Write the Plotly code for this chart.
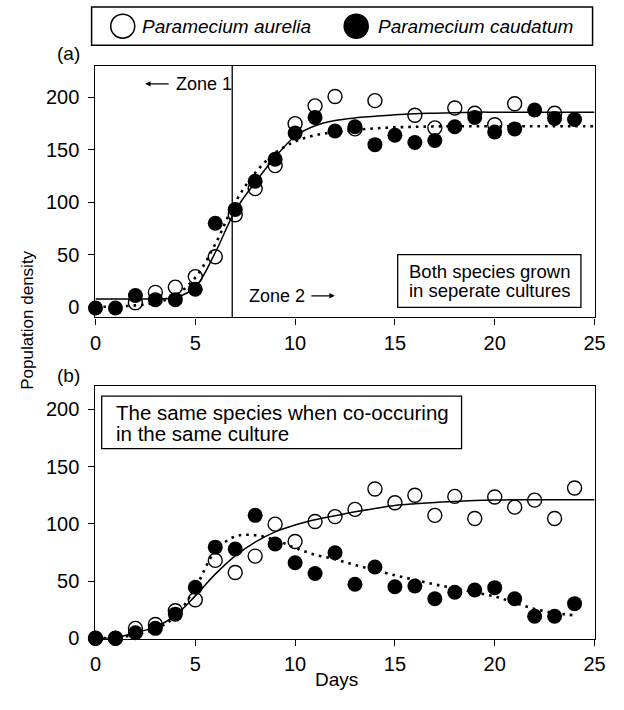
import plotly.graph_objects as go

# ---------------- data ----------------
days = list(range(0, 26))

# Panel (a): grown separately
a_aur_days = [2, 3, 4, 5, 6, 7, 8, 9, 10, 11, 12, 13, 14, 16, 17, 18, 19, 20, 21, 23]
a_aur_vals = [4, 14, 19, 29, 48, 88, 113, 135, 175, 192, 201, 170, 197, 183, 171, 190, 185, 174, 194, 185]
a_cau_days = [0, 1, 2, 3, 4, 5, 6, 7, 8, 9, 10, 11, 12, 13, 14, 15, 16, 17, 18, 19, 20, 21, 22, 23, 24]
a_cau_vals = [-1, -1, 11, 7, 7, 17, 80, 93, 120, 141, 166, 181, 168, 172, 155, 164, 157, 159, 172, 181, 167, 170, 188, 180, 179]
a_aur_fit = [7.6, 7.6, 7.6, 7.8, 9, 19, 52, 92, 119, 143, 163, 173, 178, 180.5, 182, 183.5, 184.5, 185, 185.5,
             186, 186, 186, 186, 186, 186, 186]
a_cau_fit = [0, 0.5, 1.5, 4, 11, 28, 60, 100, 128, 147, 158, 164, 167, 169, 170.5, 171.5, 172, 172.4, 172.5,
             172.5, 172.5, 172.5, 172.5, 172.5, 172.5, 172.5]

# Panel (b): co-occurring
b_aur_days = [0, 1, 2, 3, 4, 5, 6, 7, 8, 9, 10, 11, 12, 13, 14, 15, 16, 17, 18, 19, 20, 21, 22, 23, 24]
b_aur_vals = [0, 0, 8.6, 12, 24, 33.6, 68, 57.4, 71.8, 99.7, 84.5, 102, 106.3, 112.6, 130.4, 118.4, 125,
              107.4, 124, 104.6, 123.5, 114.6, 120.7, 104.6, 131.3]
b_cau_days = b_aur_days
b_cau_vals = [0, 0, 4.8, 8.6, 21, 44.5, 79.6, 78, 107.4, 82.4, 66, 56.6, 74.7, 47.2, 62.3, 45, 45.7, 34.5,
              40.2, 42.2, 44.2, 34.5, 19.2, 19.2, 30.2]
b_aur_fit = [0, 0.5, 4.9, 9.7, 20, 37, 56, 72, 84, 93, 99, 103.5, 107, 110.5, 113.5, 116, 117.5, 118.7,
             119.6, 120.3, 120.8, 121, 121, 121, 121, 121]
b_cau_fit_days = list(range(0, 25))
b_cau_fit = [0, 0.5, 3, 8, 19, 44, 76, 89, 90, 86, 79, 73, 69, 64, 59.5, 55, 51, 47, 43.6, 40, 36.5, 31,
             25.5, 22, 20]

x_ticks = [0, 5, 10, 15, 20, 25]
y_ticks = [0, 50, 100, 150, 200]
legend_names = ["Paramecium aurelia", "Paramecium caudatum"]

# ---------------- figure ----------------
W, H = 624, 710
FONT = "Liberation Sans, Arial, sans-serif"


def px_x(p):
    return p / W


def px_y(p):
    return 1 - p / H


fig = go.Figure()

open_marker = dict(symbol="circle-open", size=14, color="black", line=dict(width=1.4, color="black"))
filled_marker = dict(symbol="circle", size=15, color="black", line=dict(width=0))

# panel a
fig.add_trace(go.Scatter(x=days, y=a_aur_fit, mode="lines", line=dict(color="black", width=1.5, shape="spline"),
                         xaxis="x", yaxis="y", showlegend=False, hoverinfo="skip"))
fig.add_trace(go.Scatter(x=days, y=a_cau_fit, mode="lines",
                         line=dict(color="black", width=2.6, shape="spline", dash="2.6px,5px"),
                         xaxis="x", yaxis="y", showlegend=False, hoverinfo="skip"))
fig.add_trace(go.Scatter(x=a_cau_days, y=a_cau_vals, mode="markers", marker=filled_marker, cliponaxis=False,
                         xaxis="x", yaxis="y", name=legend_names[1], showlegend=False))
fig.add_trace(go.Scatter(x=a_aur_days, y=a_aur_vals, mode="markers", marker=open_marker, cliponaxis=False,
                         xaxis="x", yaxis="y", name=legend_names[0], showlegend=False))

# panel b
fig.add_trace(go.Scatter(x=days, y=b_aur_fit, mode="lines", line=dict(color="black", width=1.5, shape="spline"),
                         xaxis="x2", yaxis="y2", showlegend=False, hoverinfo="skip"))
fig.add_trace(go.Scatter(x=b_cau_fit_days, y=b_cau_fit, mode="lines",
                         line=dict(color="black", width=2.6, shape="spline", dash="2.6px,5px"),
                         xaxis="x2", yaxis="y2", showlegend=False, hoverinfo="skip"))
fig.add_trace(go.Scatter(x=b_cau_days, y=b_cau_vals, mode="markers", marker=filled_marker, cliponaxis=False,
                         xaxis="x2", yaxis="y2", name=legend_names[1], showlegend=False))
fig.add_trace(go.Scatter(x=b_aur_days, y=b_aur_vals, mode="markers", marker=open_marker, cliponaxis=False,
                         xaxis="x2", yaxis="y2", name=legend_names[0], showlegend=False))

axis_common = dict(showline=True, linecolor="black", linewidth=1.3, mirror=True, ticks="outside",
                   ticklen=6, tickwidth=1.3, tickcolor="black", showgrid=False, zeroline=False,
                   tickfont=dict(family=FONT, size=20, color="black"))

x_dom = [px_x(92), px_x(605)]
fig.update_layout(
    width=W, height=H,
    margin=dict(l=0, r=0, t=0, b=0),
    paper_bgcolor="white", plot_bgcolor="white",
    showlegend=False,
    xaxis=dict(domain=x_dom, anchor="y", range=[0, 25], tickvals=x_ticks, ticklabelstandoff=1, **axis_common),
    yaxis=dict(domain=[px_y(322), px_y(67)], anchor="x", range=[-10, 230], tickvals=y_ticks,
               ticklabelstandoff=5, **axis_common),
    xaxis2=dict(domain=x_dom, anchor="y2", range=[0, 25], tickvals=x_ticks, ticklabelstandoff=1, **axis_common),
    yaxis2=dict(domain=[px_y(648), px_y(392)], anchor="x2", range=[-0.6, 220.1], tickvals=y_ticks,
                ticklabelstandoff=5, **axis_common),
)

shapes = []
# zone divider
shapes.append(dict(type="line", xref="x", yref="y domain", x0=6.85, x1=6.85, y0=0, y1=1,
                   line=dict(color="black", width=1.3)))
# text boxes
shapes.append(dict(type="rect", xref="x", yref="y", x0=15.14, x1=24.32, y0=-0.3, y1=50,
                   line=dict(color="black", width=1.3), fillcolor="white", layer="below"))
shapes.append(dict(type="rect", xref="x2", yref="y2", x0=0.31, x1=18.34, y0=165.8, y1=211.7,
                   line=dict(color="black", width=1.3), fillcolor="white", layer="below"))
# legend box and symbols
shapes.append(dict(type="rect", xref="paper", yref="paper", x0=px_x(88), x1=px_x(603), y0=px_y(46), y1=px_y(7),
                   line=dict(color="black", width=1.5), fillcolor="white"))
for cx, filled in [(120, False), (360, True)]:
    shapes.append(dict(type="circle", xref="paper", yref="paper", xsizemode="pixel", ysizemode="pixel",
                       xanchor=px_x(cx), yanchor=px_y(26.5), x0=-12, x1=12, y0=-12, y1=12,
                       line=dict(color="black", width=1.5),
                       fillcolor="black" if filled else "white"))
fig.update_layout(shapes=shapes)

tfont = dict(family=FONT, size=19, color="black")
ann = []
ann.append(dict(xref="paper", yref="paper", x=px_x(138), y=px_y(26.5), xanchor="left", yanchor="middle",
                text="<i>" + legend_names[0] + "</i>", showarrow=False, font=tfont))
ann.append(dict(xref="paper", yref="paper", x=px_x(380), y=px_y(26.5), xanchor="left", yanchor="middle",
                text="<i>" + legend_names[1] + "</i>", showarrow=False, font=tfont))
# panel labels
ann.append(dict(xref="paper", yref="paper", x=px_x(50), y=px_y(54), xanchor="left", yanchor="middle",
                text="(a)", showarrow=False, font=tfont))
ann.append(dict(xref="paper", yref="paper", x=px_x(50), y=px_y(381), xanchor="left", yanchor="middle",
                text="(b)", showarrow=False, font=tfont))
# axis titles
ann.append(dict(xref="paper", yref="paper", x=px_x(22), y=px_y(325), xanchor="center", yanchor="middle",
                text="Population density", textangle=-90, showarrow=False,
                font=dict(family=FONT, size=17, color="black")))
ann.append(dict(xref="paper", yref="paper", x=px_x(340), y=px_y(689), xanchor="center", yanchor="middle",
                text="Days", showarrow=False, font=tfont))
# zones
zfont = dict(family=FONT, size=18, color="black")
ann.append(dict(xref="x", yref="y", x=3.95, y=213, xanchor="left", yanchor="middle", text="Zone 1",
                showarrow=False, font=zfont))
ann.append(dict(xref="x", yref="y", x=2.49, y=213, ax=25, ay=0, text="", showarrow=True, arrowhead=2,
                arrowsize=0.9, arrowwidth=1.2, arrowcolor="black", standoff=0, startstandoff=0))
ann.append(dict(xref="x", yref="y", x=7.6, y=10.7, xanchor="left", yanchor="middle", text="Zone 2",
                showarrow=False, font=zfont))
ann.append(dict(xref="x", yref="y", x=11.99, y=10.7, ax=-25, ay=0, text="", showarrow=True, arrowhead=2,
                arrowsize=0.9, arrowwidth=1.2, arrowcolor="black", standoff=0, startstandoff=0))
# box texts
bfont = dict(family=FONT, size=18.5, color="black")
ann.append(dict(xref="x", yref="y", x=19.73, y=(311.4 - 275) / 1.062, xanchor="center", yanchor="middle",
                text="Both species grown", showarrow=False, font=bfont))
ann.append(dict(xref="x", yref="y", x=19.73, y=(311.4 - 295) / 1.062, xanchor="center", yanchor="middle",
                text="in seperate cultures", showarrow=False, font=bfont))
b2font = dict(family=FONT, size=20.5, color="black")
ann.append(dict(xref="x2", yref="y2", x=0.91, y=197.7, xanchor="left", yanchor="middle",
                text="The same species when co-occuring", showarrow=False, font=b2font))
ann.append(dict(xref="x2", yref="y2", x=0.91, y=178.8, xanchor="left", yanchor="middle",
                text="in the same culture", showarrow=False, font=b2font))
fig.update_layout(annotations=ann)

fig.write_html("out.html", config={"displayModeBar": False},
               post_script="document.body.style.margin='0px';document.body.style.overflow='hidden';")
